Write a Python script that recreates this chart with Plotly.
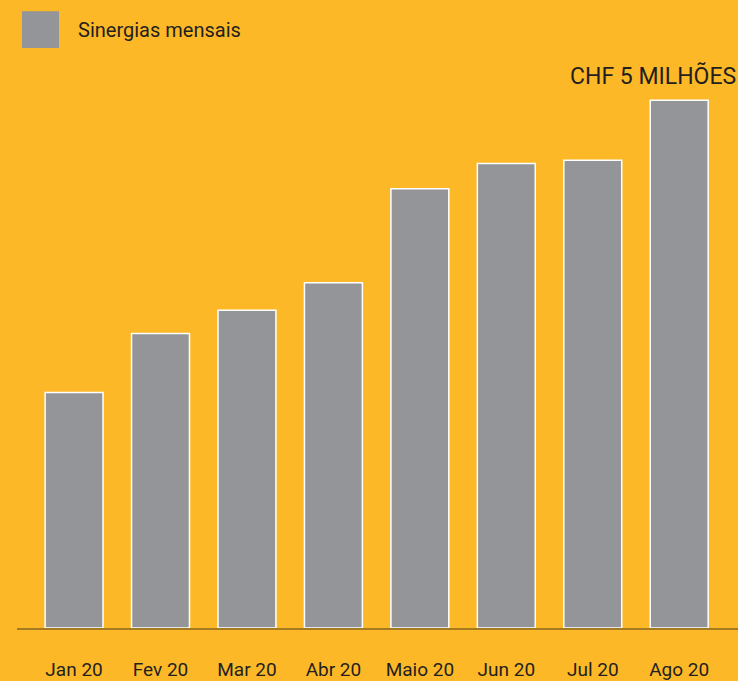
import plotly.graph_objects as go

categories = ["Jan 20", "Fev 20", "Mar 20", "Abr 20", "Maio 20", "Jun 20", "Jul 20", "Ago 20"]
synergies = [2.23, 2.79, 3.01, 3.27, 4.16, 4.40, 4.43, 5.0]
series_name = "Sinergias mensais"
top_label = "CHF 5 MILHÕES"

BG = "#FDB827"
BAR = "#939598"
TXT = "#231F20"
FONT = "Roboto"

fig = go.Figure()
fig.add_trace(go.Bar(
    x=categories, y=synergies, name=series_name,
    marker=dict(color=BAR, line=dict(color="#FFFFFF", width=1.5)),
    showlegend=False,
))

fig.update_layout(
    width=738, height=681,
    margin=dict(l=17, r=0, t=40, b=49),
    paper_bgcolor=BG, plot_bgcolor=BG,
    bargap=0.33,
    font=dict(family=FONT, color=TXT),
    xaxis=dict(
        type="category", range=[-0.66, 7.68],
        showline=True, linecolor="#A57B1F", linewidth=2,
        ticks="outside", ticklen=23, tickcolor="rgba(0,0,0,0)",
        tickfont=dict(size=19, color=TXT, family=FONT),
        showgrid=False, zeroline=False,
    ),
    yaxis=dict(range=[0, 5.57], visible=False, showgrid=False, zeroline=False),
    shapes=[dict(type="rect", xref="paper", yref="paper",
                 x0=(22 - 17) / 721, x1=(59 - 17) / 721,
                 y0=(632 - 48) / 592, y1=(632 - 11) / 592,
                 fillcolor=BAR, line=dict(width=0))],
    annotations=[
        dict(text=series_name, xref="paper", yref="paper",
             x=(76 - 17) / 721, y=(632 - 30) / 592, xanchor="left", yanchor="middle",
             showarrow=False, font=dict(size=20, color=TXT, family=FONT)),
        dict(text=top_label, xref="paper", yref="y",
             x=1, y=synergies[-1], xanchor="right", yanchor="bottom", yshift=8,
             showarrow=False, font=dict(size=23, color=TXT, family=FONT)),
    ],
)

fig.write_html("out.html", config={"displayModeBar": False},
               post_script="document.body.style.margin='0';document.body.style.overflow='hidden';")
